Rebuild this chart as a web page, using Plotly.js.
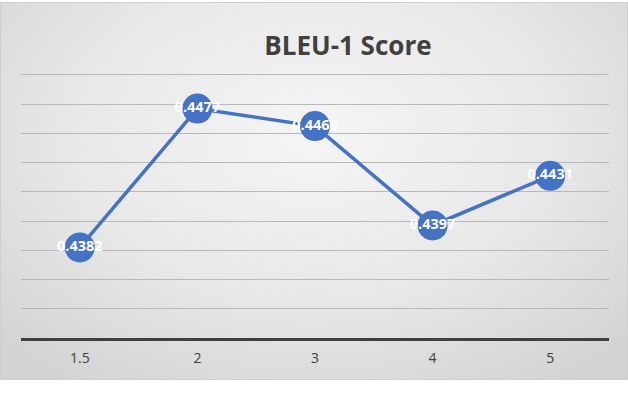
<!DOCTYPE html>
<html>
<head>
<meta charset="utf-8">
<script src="https://cdn.plot.ly/plotly-3.0.1.min.js"></script>
<style>
  html, body { margin: 0; padding: 0; background: #fff; }
  #chart {
    position: absolute; left: 0; top: 2px; width: 626px; height: 376px;
    border: 1px solid #cfcfcf;
    background: radial-gradient(ellipse 70% 80% at 50% 35%, #f5f5f5 0%, #e8e8e8 55%, #d3d3d3 100%);
  }
</style>
</head>
<body>
<div id="chart"></div>
<script>
// BLEU-1 score per setting
const categories = ['1.5', '2', '3', '4', '5'];
const bleu1 = [0.4382, 0.4477, 0.4465, 0.4397, 0.4431];
const labels = ['0.4382', '0.4477', '0.4465', '0.4397', '0.4431'];

const BLUE = '#4472c4';

const data = [{
  type: 'scatter',
  mode: 'lines+markers+text',
  x: categories,
  y: bleu1,
  text: labels,
  textposition: 'middle center',
  textfont: { family: 'Open Sans', size: 14.5, color: '#ffffff', weight: 'bold' },
  line: { color: BLUE, width: 3.5 },
  marker: { color: BLUE, size: 30 },
  cliponaxis: false,
  hoverinfo: 'skip',
}];

const layout = {
  width: 628,
  height: 377,
  title: {
    text: 'BLEU-1 Score',
    x: 0.556, xref: 'paper', xanchor: 'center',
    y: 0.885, yref: 'container', yanchor: 'middle',
    font: { family: 'Open Sans', size: 26, color: '#404040', weight: 'bold' },
  },
  xaxis: {
    type: 'category',
    range: [-0.5, 4.5],
    showgrid: false,
    showline: true, linecolor: '#404040', linewidth: 2.5,
    ticks: 'outside', ticklen: 6, tickcolor: 'rgba(0,0,0,0)',
    tickfont: { family: 'Open Sans', size: 14, color: '#404040' },
    fixedrange: true,
  },
  yaxis: {
    range: [0.432, 0.4502],
    tick0: 0.432,
    dtick: 0.002,
    showticklabels: false,
    gridcolor: '#b8b8b8', gridwidth: 1,
    zeroline: false,
    fixedrange: true,
  },
  paper_bgcolor: 'rgba(0,0,0,0)',
  plot_bgcolor: 'rgba(0,0,0,0)',
  margin: { l: 20, r: 20, t: 69, b: 42 },
  showlegend: false,
};

Plotly.newPlot('chart', data, layout, { displayModeBar: false, staticPlot: true });
</script>
</body>
</html>
